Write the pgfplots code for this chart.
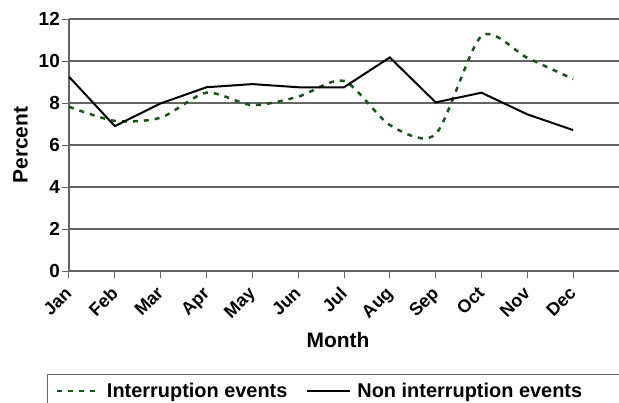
\documentclass[border=0pt]{standalone}
\usepackage{pgfplots}
\pgfplotsset{compat=1.18}
\usepackage{fontspec}
\setmainfont{Liberation Sans}
\definecolor{intgreen}{RGB}{20,85,20}
\definecolor{gridgray}{RGB}{100,100,100}
\begin{document}
\begin{tikzpicture}
\begin{axis}[
  name=ax,
  scale only axis, width=550bp, height=252bp,
  xmin=0, xmax=12, ymin=0, ymax=12,
  xtick={0,1,2,3,4,5,6,7,8,9,10,11,12},
  xticklabels={Jan,Feb,Mar,Apr,May,Jun,Jul,Aug,Sep,Oct,Nov,Dec,{}},
  ytick={0,2,4,6,8,10,12},
  ymajorgrids,
  grid style={line width=1.2bp, draw=gridgray},
  axis x line*=bottom, axis y line*=left,
  axis line style={line width=1.2bp, draw=gridgray, -},
  tick style={line width=1bp, draw=gridgray},
  major tick length=7bp,
  tick align=outside,
  /pgf/number format/assume math mode=true,
  x tick label style={xshift=-5bp, yshift=-6bp, rotate=45, anchor=north east, font=\fontsize{18}{18}\selectfont\bfseries, inner sep=1bp},
  y tick label style={font=\fontsize{19}{19}\selectfont\bfseries, inner sep=2bp},
  xlabel={Month}, ylabel={Percent},
  label style={font=\fontsize{21}{21}\selectfont\bfseries},
  xlabel style={at={(0.489,-0.275)}, anchor=center},
  ylabel style={at={(-0.088,0.5)}, anchor=center},
  legend columns=2,
  legend cell align=left,
  legend style={at={(-0.04,-0.41)}, anchor=north west, draw=gridgray, line width=1bp,
    font=\fontsize{20}{20}\selectfont\bfseries, inner xsep=8bp, inner ysep=6bp,
    /tikz/every even column/.append style={column sep=17bp}},
  legend image code/.code={\draw[#1] (0bp,0bp) -- (43bp,0bp);},
]
\addplot[intgreen, line width=2.5bp, dash pattern=on 5bp off 6bp, smooth, tension=0.45] coordinates {
(0,7.82) (1,7.15) (2,7.3) (3,8.49) (4,7.9) (5,8.3) (6,9.05) (7,6.95) (8,6.52) (9,11.19) (10,10.15) (11,9.14)};
\addlegendentry{\hspace{4bp}Interruption events}
\addplot[black, line width=2bp] coordinates {
(0,9.25) (1,6.9) (2,7.98) (3,8.75) (4,8.9) (5,8.75) (6,8.75) (7,10.17) (8,8.03) (9,8.49) (10,7.46) (11,6.71)};
\addlegendentry{\hspace{4bp}Non interruption events\kern40bp}
\end{axis}
\pgfresetboundingbox
\path[use as bounding box] ([shift={(-69bp,-132bp)}]ax.south west) rectangle ([shift={(0bp,19bp)}]ax.north east);
\end{tikzpicture}
\end{document}
